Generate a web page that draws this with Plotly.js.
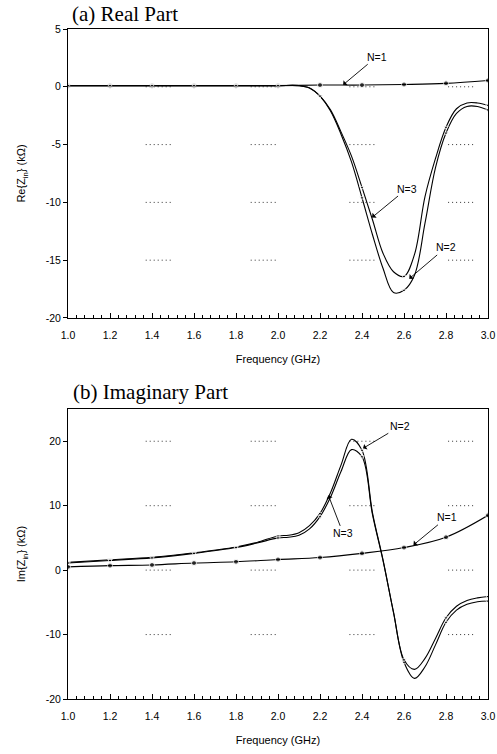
<!DOCTYPE html>
<html>
<head>
<meta charset="utf-8">
<script src="https://cdn.plot.ly/plotly-3.0.1.min.js"></script>
<style>html,body{margin:0;padding:0;background:#fff;}#chart{width:497px;height:754px;}</style>
</head>
<body>
<div id="chart"></div>
<script>
// ---------- data ----------
// (a) Real part, kOhm
var xReal = [1.0,1.2,1.4,1.6,1.8,2.0,2.1,2.15,2.2,2.25,2.3,2.35,2.4,2.45,2.5,2.55,2.6,2.65,2.7,2.75,2.8,2.85,2.9,2.95,3.0];
var reN2  = [0.1,0.1,0.1,0.1,0.1,0.1,0.1,-0.1,-0.8,-2.1,-4.1,-6.5,-9.6,-12.8,-15.7,-17.8,-17.6,-16.3,-11.8,-7.0,-4.0,-2.3,-1.7,-1.7,-2.0];
var reN3  = [0.1,0.1,0.1,0.1,0.1,0.1,0.1,-0.1,-0.8,-2.0,-3.9,-6.0,-8.7,-11.5,-14.4,-16.0,-16.4,-14.5,-9.5,-6.2,-3.5,-1.9,-1.4,-1.4,-1.6];
var xN1   = [1.0,1.2,1.4,1.6,1.8,2.0,2.2,2.4,2.6,2.8,3.0];
var reN1  = [0.1,0.1,0.1,0.1,0.1,0.1,0.15,0.15,0.2,0.3,0.55];
// (b) Imaginary part, kOhm
var xImag = [1.0,1.2,1.4,1.6,1.8,1.9,2.0,2.05,2.1,2.15,2.2,2.25,2.3,2.35,2.4,2.45,2.5,2.55,2.6,2.65,2.7,2.75,2.8,2.85,2.9,2.95,3.0];
var imN2  = [1.2,1.6,2.0,2.7,3.6,4.3,5.3,5.4,5.8,6.9,8.8,12.0,16.3,20.3,18.6,8.9,1.6,-6.6,-14.3,-16.8,-15.0,-11.6,-8.1,-6.2,-5.3,-4.9,-4.8];
var imN3  = [1.1,1.5,1.9,2.6,3.5,4.2,5.0,5.1,5.4,6.4,8.3,11.3,15.3,18.7,17.6,8.6,1.5,-6.5,-13.9,-15.4,-13.7,-10.6,-7.4,-5.6,-4.7,-4.3,-4.1];
var imN1  = [0.5,0.7,0.8,1.1,1.3,1.65,1.95,2.6,3.5,5.1,8.5];

// tick labels
var reTicks = [-20,-15,-10,-5,0,5];
var reTickText = ["-20","-15","-10","-5","0","5"];
var imTicks = [-20,-10,0,10,20];
var imTickText = ["-20","-10","0","10","20"];
var xTicks = [1.0,1.2,1.4,1.6,1.8,2.0,2.2,2.4,2.6,2.8,3.0];
var xTickText = ["1.0","1.2","1.4","1.6","1.8","2.0","2.2","2.4","2.6","2.8","3.0"];

// short dotted grid fragments seen in the reference
var dotSegX = [[1.37,1.49],[1.87,1.99],[2.34,2.47],[2.81,2.94]];
var dotYReal = [0,-5,-10,-15];
var dotYImag = [20,10,0,-10];

// ---------- helpers ----------
function markSizes(xs, s){
  return xs.map(function(v){ return Math.abs(v*5 - Math.round(v*5)) < 1e-6 ? s : 0; });
}
function curve(xs, ys, xa, ya, sym, size){
  return {x: xs, y: ys, xaxis: xa, yaxis: ya, type: 'scatter', mode: 'lines+markers',
    line: {color: '#000', width: 1.1, shape: 'spline', smoothing: 1},
    marker: {color: '#000', symbol: sym, size: markSizes(xs, size)},
    showlegend: false, hoverinfo: 'skip'};
}

var data = [
  curve(xN1, reN1, 'x', 'y', 'circle', 5),
  curve(xReal, reN2, 'x', 'y', 'triangle-down', 4),
  curve(xReal, reN3, 'x', 'y', 'triangle-down', 4),
  curve(xN1, imN1, 'x2', 'y2', 'circle', 5),
  curve(xImag, imN2, 'x2', 'y2', 'triangle-down', 4),
  curve(xImag, imN3, 'x2', 'y2', 'triangle-down', 4)
];

var shapes = [];
function addDots(ys, xr, yr){
  ys.forEach(function(yv){
    dotSegX.forEach(function(seg){
      shapes.push({type:'line', xref:xr, yref:yr, x0:seg[0], x1:seg[1], y0:yv, y1:yv,
        line:{color:'#333', width:1, dash:'1px,3px'}, layer:'below'});
    });
  });
}
addDots(dotYReal, 'x', 'y');
addDots(dotYImag, 'x2', 'y2');

var tickFont = {family: 'Liberation Sans, Arial, sans-serif', size: 10.5, color: '#000'};
var axTitleFont = {family: 'Liberation Sans, Arial, sans-serif', size: 11, color: '#000'};
function xAxis(anchor){
  return {anchor: anchor, range: [1, 3], tickvals: xTicks, ticktext: xTickText,
    ticks: 'inside', ticklen: 5, tickcolor: '#000', tickwidth: 1, ticklabelstandoff: 7,
    minor: {dtick: 0.04, tick0: 1, ticks: 'inside', ticklen: 3, tickcolor: '#000', tickwidth: 1, showgrid: false},
    showline: true, linecolor: '#000', linewidth: 1, mirror: true,
    showgrid: false, zeroline: false, tickfont: tickFont,
    title: {text: 'Frequency (GHz)', font: axTitleFont, standoff: 15},
    automargin: false};
}
function yAxis(anchor, dom, rng, tv, tt, ttl){
  return {anchor: anchor, domain: dom, range: rng, tickvals: tv, ticktext: tt,
    ticks: 'outside', ticklen: 4, tickcolor: '#000', tickwidth: 1,
    showline: true, linecolor: '#000', linewidth: 1, mirror: true,
    showgrid: false, zeroline: false, tickfont: tickFont,
    title: {text: ttl, font: axTitleFont, standoff: 17},
    automargin: false};
}

var annFont = {family: 'Liberation Sans, Arial, sans-serif', size: 10.5, color: '#000'};
function arrowAnn(xr, yr, tx, ty, px, py, txt){
  return {xref: xr, yref: yr, axref: xr, ayref: yr, x: px, y: py, ax: tx, ay: ty,
    text: txt, font: annFont, showarrow: true, arrowhead: 1, arrowsize: 1.2, arrowwidth: 0.9,
    arrowcolor: '#000', standoff: 0};
}
var titleFont = {family: 'Liberation Serif, Times New Roman, serif', size: 21, color: '#000'};

var layout = {
  width: 497, height: 754,
  margin: {l: 68, r: 9, t: 29, b: 55},
  paper_bgcolor: '#fff', plot_bgcolor: '#fff',
  xaxis: xAxis('y'),
  yaxis: yAxis('x', [0.5687, 1], [-20, 5], reTicks, reTickText, 'Re{Z<sub>in</sub>} (kΩ)'),
  xaxis2: xAxis('y2'),
  yaxis2: yAxis('x2', [0, 0.4328], [-20, 25], imTicks, imTickText, 'Im{Z<sub>in</sub>} (kΩ)'),
  shapes: shapes,
  annotations: [
    {xref: 'paper', yref: 'paper', x: 0.004, y: 1.0225, xanchor: 'left', yanchor: 'middle',
      text: '(a) Real Part', showarrow: false, font: titleFont},
    {xref: 'paper', yref: 'paper', x: 0.008, y: 0.4575, xanchor: 'left', yanchor: 'middle',
      text: '(b) Imaginary Part', showarrow: false, font: titleFont},
    arrowAnn('x', 'y', 2.47, 2.6, 2.31, 0.17, 'N=1'),
    arrowAnn('x', 'y', 2.615, -8.8, 2.448, -11.3, 'N=3'),
    arrowAnn('x', 'y', 2.80, -13.9, 2.625, -16.6, 'N=2'),
    arrowAnn('x2', 'y2', 2.58, 22.3, 2.405, 18.9, 'N=2'),
    arrowAnn('x2', 'y2', 2.31, 5.7, 2.24, 11.6, 'N=3'),
    arrowAnn('x2', 'y2', 2.805, 8.2, 2.645, 3.9, 'N=1')
  ]
};

Plotly.newPlot('chart', data, layout, {staticPlot: true, displayModeBar: false});
</script>
</body>
</html>
